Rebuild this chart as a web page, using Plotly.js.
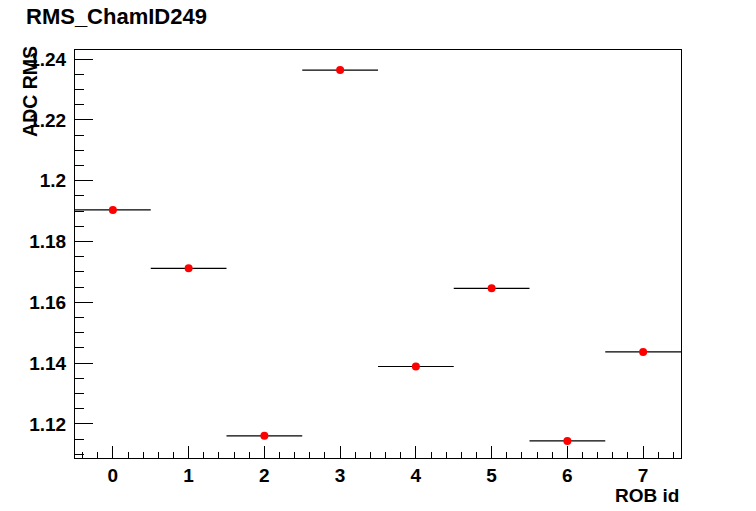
<!DOCTYPE html>
<html>
<head>
<meta charset="utf-8">
<script src="https://cdn.plot.ly/plotly-3.0.1.min.js"></script>
<style>html,body{margin:0;padding:0;background:#fff;}#chart{width:756px;height:511px;}</style>
</head>
<body>
<div id="chart"></div>
<script>
const chartTitle = "RMS_ChamID249";
const xTitle = "ROB id";
const yTitle = "ADC RMS";
const robIds = [0, 1, 2, 3, 4, 5, 6, 7];
const rmsValues = [1.1904, 1.1712, 1.1161, 1.2364, 1.1389, 1.1646, 1.1144, 1.1437];
const binHalfWidth = [0.5, 0.5, 0.5, 0.5, 0.5, 0.5, 0.5, 0.5];

const font = "Liberation Sans, Arial, Helvetica, sans-serif";

const trace = {
  type: "scatter",
  mode: "markers",
  x: robIds,
  y: rmsValues,
  marker: {color: "#ff0000", size: 8, symbol: "circle"},
  error_x: {type: "data", array: binHalfWidth, visible: true, color: "#000000", thickness: 1.2, width: 0},
  showlegend: false,
  hoverinfo: "x+y"
};

const layout = {
  width: 756, height: 511,
  margin: {l: 75, r: 75, t: 50, b: 53, pad: 0},
  paper_bgcolor: "#ffffff",
  plot_bgcolor: "#ffffff",
  font: {family: font, size: 19, color: "#000000", weight: "bold"},
  showlegend: false,
  xaxis: {
    range: [-0.5, 7.5],
    tick0: 0, dtick: 1,
    ticks: "inside", ticklen: 12, tickwidth: 1, tickcolor: "#000",
    minor: {dtick: 0.2, ticks: "inside", ticklen: 6, tickwidth: 1, tickcolor: "#000", showgrid: false},
    showgrid: false, zeroline: false,
    showline: true, mirror: true, linecolor: "#000", linewidth: 1,
    tickfont: {family: font, size: 19, color: "#000", weight: "bold"}
  },
  yaxis: {
    range: [1.1088, 1.2430],
    tick0: 1.12, dtick: 0.02,
    ticks: "inside", ticklen: 18, tickwidth: 1, tickcolor: "#000",
    minor: {dtick: 0.005, ticks: "inside", ticklen: 9, tickwidth: 1, tickcolor: "#000", showgrid: false},
    showgrid: false, zeroline: false,
    showline: true, mirror: true, linecolor: "#000", linewidth: 1,
    ticklabelstandoff: 4,
    tickfont: {family: font, size: 19, color: "#000", weight: "bold"}
  },
  annotations: [
    {text: chartTitle, xref: "paper", yref: "paper", x: -0.084, y: 1.081, xanchor: "left", yanchor: "middle",
     showarrow: false, font: {family: font, size: 22, color: "#000", weight: "bold"}},
    {text: xTitle, xref: "paper", yref: "paper", x: 1, y: -0.062, xanchor: "right", yanchor: "top",
     showarrow: false, font: {family: font, size: 19, color: "#000", weight: "bold"}},
    {text: yTitle, xref: "paper", yref: "paper", x: -0.074, y: 1.014, xanchor: "center", yanchor: "top",
     textangle: -90, showarrow: false, font: {family: font, size: 19.5, color: "#000", weight: "bold"}}
  ]
};

Plotly.newPlot("chart", [trace], layout, {displayModeBar: false, staticPlot: true});
</script>
</body>
</html>
